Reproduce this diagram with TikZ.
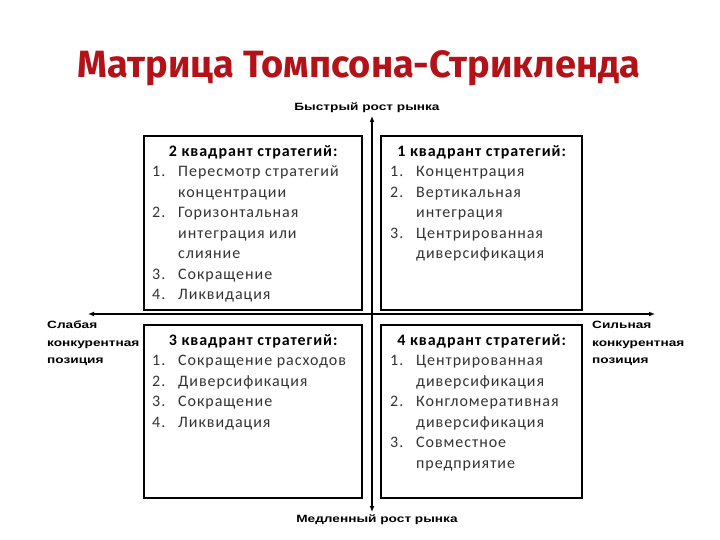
\documentclass[tikz,border=0pt]{standalone}
\usepackage{fontspec}
\setmainfont{Carlito}
\newfontfamily\listfont[LetterSpace=6]{Carlito}
\newfontfamily\titlefont{Fira Sans}
\newfontfamily\axisfont[FakeStretch=1.3]{Liberation Sans}
\usetikzlibrary{positioning,arrows.meta}

\definecolor{titlered}{RGB}{178,18,24}
\newcommand{\qnum}[1]{\makebox[26pt][l]{#1}}

\begin{document}
\begin{tikzpicture}[x=1pt,y=-1pt,
    quadbox/.style={draw, line width=2pt, inner sep=0pt},
    quadlist/.style={anchor=north west, align=left, inner sep=0pt,
      font=\listfont\fontsize{16}{20.5}\selectfont, text=black!80},
    axislabel/.style={font=\axisfont\bfseries\fontsize{10.5}{17.5}\selectfont,
      align=left, inner sep=0pt},
    axisline/.style={line width=1.3pt, {Latex[length=6pt,width=5pt]}-{Latex[length=6pt,width=5pt]}}]
    \useasboundingbox (0,0) rectangle (720,540);

    % Title
    \node[font=\titlefont\bfseries\fontsize{38}{42}\selectfont, text=titlered]
      (title) at (359,68) {Матрица Томпсона-Стрикленда};

    % Axes
    \coordinate (up) at (372,116);
    \coordinate (down) at (372,512);
    \coordinate (west) at (88,314);
    \coordinate (east) at (655,314);
    \draw[axisline] (down) -- (up);
    \draw[axisline] (west) -- (east);

    \node[axislabel] (fast) at (367,108) {Быстрый рост рынка};
    \node[axislabel] (slow) at (377,520) {Медленный рост рынка};
    \node[axislabel, anchor=north west] (weak) at (47,321) {Слабая\\конкурентная\\позиция};
    \node[axislabel, anchor=north west] (strong) at (592,321) {Сильная\\конкурентная\\позиция};

    % Quadrant boxes
    \node[quadbox, minimum width=218pt, minimum height=174pt] (q2) at (253,223) {};
    \node[quadbox, minimum width=201pt, minimum height=174pt] (q1) at (481.5,223) {};
    \node[quadbox, minimum width=218pt, minimum height=173pt] (q3) at (253,411.5) {};
    \node[quadbox, minimum width=201pt, minimum height=173pt] (q4) at (481.5,411.5) {};

    % Quadrant 2
    \node[quadlist] (l2) at (152,145) {%
      \makebox[202pt]{\textbf{\color{black}2 квадрант стратегий:}}\\
      \qnum{1.}Пересмотр стратегий\\
      \qnum{}концентрации\\
      \qnum{2.}Горизонтальная\\
      \qnum{}интеграция или\\
      \qnum{}слияние\\
      \qnum{3.}Сокращение\\
      \qnum{4.}Ликвидация};

    % Quadrant 1
    \node[quadlist] (l1) at (390,145) {%
      \makebox[183pt]{\textbf{\color{black}1 квадрант стратегий:}}\\
      \qnum{1.}Концентрация\\
      \qnum{2.}Вертикальная\\
      \qnum{}интеграция\\
      \qnum{3.}Центрированная\\
      \qnum{}диверсификация};

    % Quadrant 3
    \node[quadlist] (l3) at (152,334) {%
      \makebox[202pt]{\textbf{\color{black}3 квадрант стратегий:}}\\
      \qnum{1.}Сокращение расходов\\
      \qnum{2.}Диверсификация\\
      \qnum{3.}Сокращение\\
      \qnum{4.}Ликвидация};

    % Quadrant 4
    \node[quadlist] (l4) at (390,334) {%
      \makebox[183pt]{\textbf{\color{black}4 квадрант стратегий:}}\\
      \qnum{1.}Центрированная\\
      \qnum{}диверсификация\\
      \qnum{2.}Конгломеративная\\
      \qnum{}диверсификация\\
      \qnum{3.}Совместное\\
      \qnum{}предприятие};
\end{tikzpicture}
\end{document}
